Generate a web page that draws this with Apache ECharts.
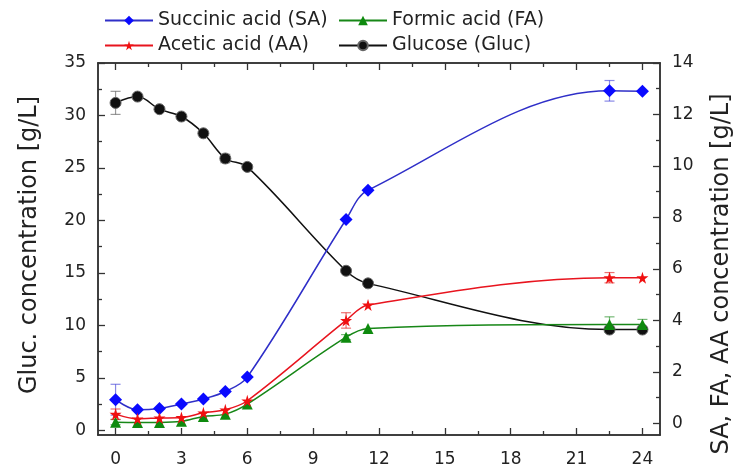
<!DOCTYPE html>
<html>
<head>
<meta charset="utf-8">
<script src="https://cdn.jsdelivr.net/npm/echarts@6/dist/echarts.min.js"></script>
<style>
  html, body { margin: 0; padding: 0; background: #fff; }
  #chart { width: 747px; height: 468px; }
</style>
</head>
<body>
<div id="chart"></div>
<script>
// fermentation time [h]
const times = [0, 1, 2, 3, 4, 5, 6, 10.5, 11.5, 22.5, 24];
// concentrations
const glucose = [31.2, 31.8, 30.6, 29.9, 28.3, 25.9, 25.1, 15.2, 14.0, 9.6, 9.6];
const succinic = [0.92, 0.53, 0.58, 0.75, 0.95, 1.24, 1.8, 7.92, 9.06, 12.92, 12.9];
const formic = [0.05, 0.04, 0.04, 0.08, 0.27, 0.36, 0.75, 3.35, 3.69, 3.84, 3.84];
const acetic = [0.36, 0.18, 0.21, 0.23, 0.41, 0.53, 0.88, 4.0, 4.6, 5.66, 5.66];
// error bars (+/-)
const glucoseErr = [1.1, 0, 0, 0, 0, 0.4, 0, 0, 0, 0, 0];
const succinicErr = [0.6, 0, 0, 0, 0, 0, 0, 0, 0, 0.4, 0];
const formicErr = [0.1, 0, 0, 0, 0, 0, 0, 0.1, 0, 0.3, 0.2];
const aceticErr = [0.2, 0, 0, 0, 0, 0, 0, 0.3, 0, 0.2, 0];
// ticks
const xTicks = [0, 3, 6, 9, 12, 15, 18, 21, 24];
const xMinor = [1.5, 4.5, 7.5, 10.5, 13.5, 16.5, 19.5, 22.5];
const yLeftTicks = [0, 5, 10, 15, 20, 25, 30, 35];
const yLeftMinor = [2.5, 7.5, 12.5, 17.5, 22.5, 27.5, 32.5];
const yRightTicks = [0, 2, 4, 6, 8, 10, 12, 14];
const yRightMinor = [1, 3, 5, 7, 9, 11, 13];

const font = 'DejaVu Sans, sans-serif';
const axisColor = '#333';
const textColor = '#222';
const smoothness = 0.35;

function pairs(vals) {
  return times.map((t, i) => [t, vals[i]]);
}
function errData(vals, errs) {
  const out = [];
  times.forEach((t, i) => {
    if (errs[i] > 0) out.push([t, vals[i] - errs[i], vals[i] + errs[i]]);
  });
  return out;
}
// error bars drawn as custom series
function errSeries(vals, errs, yIdx, color) {
  return {
    type: 'custom',
    xAxisIndex: 0,
    yAxisIndex: yIdx,
    data: errData(vals, errs),
    silent: true,
    z: 1,
    renderItem: function (params, api) {
      const lo = api.coord([api.value(0), api.value(1)]);
      const hi = api.coord([api.value(0), api.value(2)]);
      const w = 5;
      const st = { stroke: color, lineWidth: 1.2, opacity: 0.6 };
      return {
        type: 'group',
        children: [
          { type: 'line', shape: { x1: lo[0], y1: lo[1], x2: hi[0], y2: hi[1] }, style: st },
          { type: 'line', shape: { x1: lo[0] - w, y1: lo[1], x2: lo[0] + w, y2: lo[1] }, style: st },
          { type: 'line', shape: { x1: hi[0] - w, y1: hi[1], x2: hi[0] + w, y2: hi[1] }, style: st }
        ]
      };
    }
  };
}

function xAx(pos, ticks, len, labels) {
  return {
    type: 'value', position: pos, min: -0.8, max: 24.8,
    axisLine: { show: true, onZero: false, lineStyle: { color: axisColor, width: 1.5 } },
    axisTick: { show: true, inside: true, length: len, customValues: ticks, lineStyle: { color: axisColor, width: 1.3 } },
    axisLabel: labels ? { show: true, customValues: ticks, color: textColor, fontSize: 17, fontFamily: font, margin: 16 } : { show: false },
    splitLine: { show: false }
  };
}
function yAx(pos, min, max, ticks, len, labels) {
  return {
    type: 'value', position: pos, min: min, max: max,
    axisLine: { show: true, onZero: false, lineStyle: { color: axisColor, width: 1.5 } },
    axisTick: { show: true, inside: true, length: len, customValues: ticks, lineStyle: { color: axisColor, width: 1.3 } },
    axisLabel: labels ? { show: true, customValues: ticks, color: textColor, fontSize: 17, fontFamily: font, margin: 12 } : { show: false },
    splitLine: { show: false }
  };
}

const chart = echarts.init(document.getElementById('chart'), null, { renderer: 'canvas' });

const legendText = { fontSize: 19, color: textColor, fontFamily: font };

chart.setOption({
  animation: false,
  backgroundColor: '#fff',
  grid: { left: 98, right: 87, top: 63, bottom: 31 },
  legend: [
    { left: 99, top: 6, orient: 'vertical', itemWidth: 48, itemHeight: 12, itemGap: 6,
      data: ['Succinic acid (SA)', 'Acetic acid (AA)'], textStyle: legendText },
    { left: 333, top: 6, orient: 'vertical', itemWidth: 48, itemHeight: 12, itemGap: 6,
      data: ['Formic acid (FA)', 'Glucose (Gluc)'], textStyle: legendText }
  ],
  // axis titles
  graphic: [
    { type: 'text', x: 30, y: 245, rotation: Math.PI / 2,
      style: { text: 'Gluc. concentration [g/L]', font: '24px DejaVu Sans', fill: textColor, align: 'center', verticalAlign: 'middle' } },
    { type: 'text', x: 722, y: 274, rotation: Math.PI / 2,
      style: { text: 'SA, FA, AA concentration [g/L]', font: '24px DejaVu Sans', fill: textColor, align: 'center', verticalAlign: 'middle' } }
  ],
  xAxis: [
    xAx('bottom', xTicks, 7, true),
    xAx('bottom', xMinor, 4, false),
    xAx('top', xTicks, 7, false),
    xAx('top', xMinor, 4, false)
  ],
  yAxis: [
    yAx('left', -0.45, 35, yLeftTicks, 7, true),
    yAx('left', -0.45, 35, yLeftMinor, 4, false),
    yAx('right', -0.45, 14, yRightTicks, 7, true),
    yAx('right', -0.45, 14, yRightMinor, 4, false)
  ],
  series: [
    errSeries(glucose, glucoseErr, 0, '#555'),
    errSeries(succinic, succinicErr, 2, '#3b3bd6'),
    errSeries(formic, formicErr, 2, '#1c8a1c'),
    errSeries(acetic, aceticErr, 2, '#e01010'),
    {
      name: 'Glucose (Gluc)', type: 'line', xAxisIndex: 0, yAxisIndex: 0,
      data: pairs(glucose), smooth: smoothness,
      symbol: 'circle', symbolSize: 11,
      lineStyle: { color: '#111', width: 1.5 },
      itemStyle: { color: '#111', borderColor: '#666', borderWidth: 1 }, z: 3
    },
    {
      name: 'Succinic acid (SA)', type: 'line', xAxisIndex: 0, yAxisIndex: 2,
      data: pairs(succinic), smooth: smoothness,
      symbol: 'diamond', symbolSize: 13,
      lineStyle: { color: '#2f2fc8', width: 1.5 },
      itemStyle: { color: '#0a0aff' }, z: 3
    },
    {
      name: 'Formic acid (FA)', type: 'line', xAxisIndex: 0, yAxisIndex: 2,
      data: pairs(formic), smooth: smoothness,
      symbol: 'triangle', symbolSize: 11,
      lineStyle: { color: '#178717', width: 1.5 },
      itemStyle: { color: '#0e8a0e' }, z: 3
    },
    {
      name: 'Acetic acid (AA)', type: 'line', xAxisIndex: 0, yAxisIndex: 2,
      data: pairs(acetic), smooth: smoothness,
      symbol: 'path://M50,0 L61,35 L98,35 L68,57 L79,91 L50,70 L21,91 L32,57 L2,35 L39,35 Z', symbolSize: 12,
      lineStyle: { color: '#e8141e', width: 1.5 },
      itemStyle: { color: '#f01010' }, z: 3
    }
  ]
});
</script>
</body>
</html>
